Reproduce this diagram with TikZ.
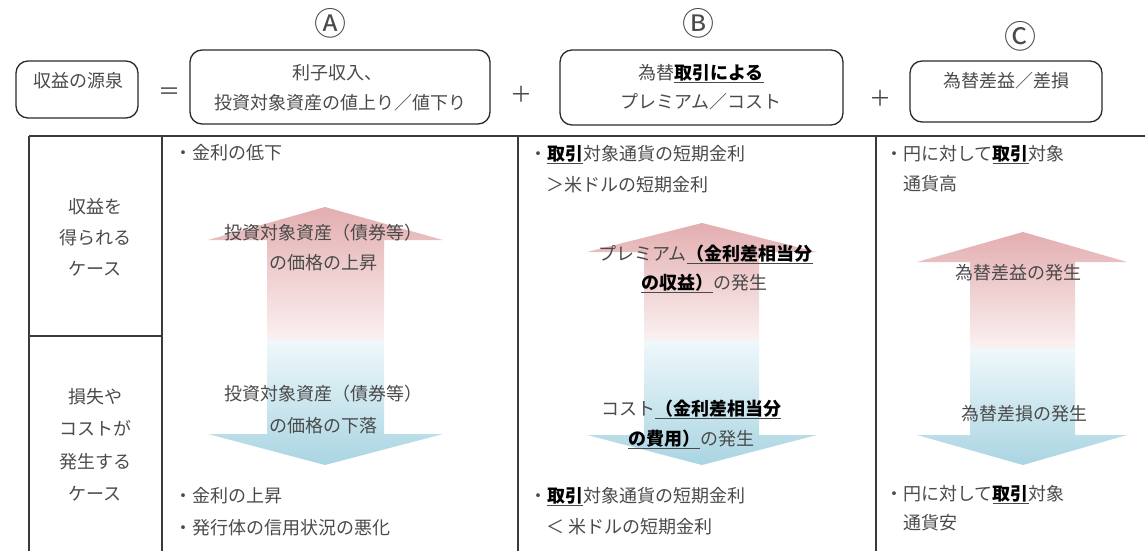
\documentclass[tikz,border=0pt]{standalone}
\usepackage{fontspec}
\setmainfont{Noto Sans CJK JP}
\definecolor{pinkD}{HTML}{E3AEB0}
\definecolor{pinkL}{HTML}{FBF1F1}
\definecolor{blueL}{HTML}{F0F8FB}
\definecolor{blueD}{HTML}{A9D5E2}
\definecolor{tgray}{HTML}{4A4A4A}
\definecolor{bord}{HTML}{2A2A2A}
\definecolor{tab}{HTML}{3A3A3A}
\newcommand\ulb[1]{\underline{\textbf{\color{black}#1}}}
\begin{document}
\begin{tikzpicture}[x=1pt,y=-1pt,
  txt/.style={inner sep=0pt, text=tgray, font=\fontsize{18}{22}\selectfont},
  lt/.style={txt, anchor=base west},
  ct/.style={txt, anchor=base},
  circ/.style={inner sep=0pt, text=tgray, font=\fontsize{32}{34}\selectfont},
  rbox/.style={draw=bord, line width=1.3pt, rounded corners=12pt, inner sep=0pt},
  tline/.style={draw=tab, line width=1.1pt},
  op/.style={inner sep=0pt, text=tgray, font=\fontsize{22}{24}\selectfont, anchor=base},
]
\useasboundingbox (0,0) rectangle (1145,551);

% circled letters
\node[circ] (ca) at (330,23) {Ⓐ};
\node[circ] (cb) at (698,23) {Ⓑ};
\node[circ] (cc) at (1020,36) {Ⓒ};

% top boxes
\node[rbox, minimum width=122pt, minimum height=57pt] (src) at (77,89.5) {};
\node[ct] (srct) at (78,87) {収益の源泉};
\node[op] (eq) at (169,99) {＝};
\node[rbox, minimum width=300pt, minimum height=74pt] (boxa) at (340,87) {};
\node[ct] (boxa1) at (337,79) {利子収入、};
\node[ct] (boxa2) at (340,109) {投資対象資産の値上り／値下り};
\node[op] (plus1) at (521,102) {＋};
\node[rbox, minimum width=283pt, minimum height=75pt] (boxb) at (701.5,87.5) {};
\node[ct] (boxb1) at (701,79) {為替\ulb{取引による}};
\node[ct] (boxb2) at (701,108) {プレミアム／コスト};
\node[op] (plus2) at (880,106) {＋};
\node[rbox, minimum width=192pt, minimum height=61pt] (boxc) at (1006,91.5) {};
\node[ct] (boxct) at (1006,88) {為替差益／差損};

% table
\draw[tline] (29,136) -- (1145,136);
\draw[tline] (29,136) -- (29,551);
\draw[tline] (162,136) -- (162,551);
\draw[tline] (518,136) -- (518,551);
\draw[tline] (876,136) -- (876,551);
\draw[tline] (29,336) -- (162,336);

% left column
\node[ct] (l1) at (95,213) {収益を};
\node[ct] (l2) at (95,244) {得られる};
\node[ct] (l3) at (95,275) {ケース};
\node[ct] (l4) at (95,403) {損失や};
\node[ct] (l5) at (95,435) {コストが};
\node[ct] (l6) at (95,468) {発生する};
\node[ct] (l7) at (95,500) {ケース};

% arrows column A
\shade[top color=pinkD, bottom color=pinkL] (325,207) -- (443,240) -- (384,240) -- (384,340) -- (267,340) -- (267,240) -- (208,240) -- cycle;
\shade[top color=blueL, bottom color=blueD] (267,340) -- (384,340) -- (384,434) -- (443,434) -- (325,465) -- (208,434) -- (267,434) -- cycle;
% arrows column B
\shade[top color=pinkD, bottom color=pinkL] (702,223) -- (817,252) -- (759,252) -- (759,340) -- (644,340) -- (644,252) -- (587,252) -- cycle;
\shade[top color=blueL, bottom color=blueD] (644,340) -- (759,340) -- (759,435) -- (817,435) -- (702,465) -- (587,435) -- (644,435) -- cycle;
% arrows column C
\shade[top color=pinkD, bottom color=pinkL] (1023,232) -- (1127,262) -- (1075,262) -- (1075,348) -- (970,348) -- (970,262) -- (917,262) -- cycle;
\shade[top color=blueL, bottom color=blueD] (970,348) -- (1075,348) -- (1075,435) -- (1127,435) -- (1023,465) -- (917,435) -- (970,435) -- cycle;

% column A texts
\node[lt] (a1) at (174,159) {・金利の低下};
\node[ct] (a2) at (323,239) {投資対象資産（債券等）};
\node[ct] (a3) at (323,269) {の価格の上昇};
\node[ct] (a4) at (323,400) {投資対象資産（債券等）};
\node[ct] (a5) at (323,432) {の価格の下落};
\node[lt] (a6) at (174,502) {・金利の上昇};
\node[lt] (a7) at (174,534) {・発行体の信用状況の悪化};

% column B texts
\node[lt] (b1) at (529,160) {・\ulb{取引}対象通貨の短期金利};
\node[lt] (b2) at (546,191) {＞米ドルの短期金利};
\node[lt] (b3) at (598,260) {プレミアム\ulb{（金利差相当分}};
\node[lt] (b4) at (641,289) {\ulb{の収益）}の発生};
\node[lt] (b5) at (601,415) {コスト\ulb{（金利差相当分}};
\node[lt] (b6) at (628,445) {\ulb{の費用）}の発生};
\node[lt] (b7) at (529,502) {・\ulb{取引}対象通貨の短期金利};
\node[lt] (b8) at (546,533) {＜\ 米ドルの短期金利};

% column C texts
\node[lt] (c1) at (885,160) {・円に対して\ulb{取引}対象};
\node[lt] (c2) at (903,190) {通貨高};
\node[ct] (c3) at (1018,279) {為替差益の発生};
\node[ct] (c4) at (1024,420) {為替差損の発生};
\node[lt] (c5) at (885,500) {・円に対して\ulb{取引}対象};
\node[lt] (c6) at (903,529) {通貨安};
\end{tikzpicture}
\end{document}
